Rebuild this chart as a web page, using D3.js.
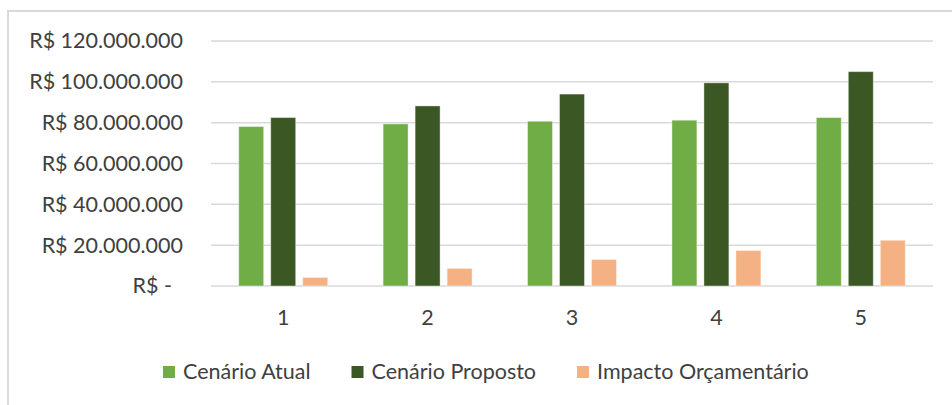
<!DOCTYPE html>
<html>
<head>
<meta charset="utf-8">
<script src="https://cdn.jsdelivr.net/npm/d3@7"></script>
<style>
  body { margin: 0; background: #fff; }
  svg { display: block; }
</style>
</head>
<body>
<script>
const categories = ["1", "2", "3", "4", "5"];
const seriesNames = ["Cenário Atual", "Cenário Proposto", "Impacto Orçamentário"];
const atual = [78100000, 79400000, 80700000, 81200000, 82500000];
const proposto = [82500000, 88200000, 94000000, 99500000, 105000000];
const impacto = [4200000, 8600000, 13000000, 17400000, 22400000];
const yTicks = [0, 20000000, 40000000, 60000000, 80000000, 100000000, 120000000];
const colors = ["#70ad47", "#3a5724", "#f4b183"];

function init(){
	const width = 952, height = 405;
	const font = "Lato, 'Open Sans', sans-serif";
	const fs = "21.5px";

	const svg = d3.select("body").append("svg")
		.attr("width", width)
		.attr("height", height)
		.style("background-color", "#ffffff");

	// chart frame (cut off at right and bottom)
	svg.append("rect")
		.attr("x", 8)
		.attr("y", 11)
		.attr("width", 1000)
		.attr("height", 500)
		.attr("fill", "none")
		.attr("stroke", "#d9d9d9")
		.attr("stroke-width", 2);

	const left = 211, right = 933, top = 41, bottom = 286;

	const x0 = d3.scaleBand()
		.domain(categories)
		.range([left, right])
		.padding(0);

	const x1 = d3.scaleBand()
		.domain(seriesNames)
		.range([0, x0.bandwidth()])
		.paddingInner(0.22)
		.paddingOuter(0.866);

	const y = d3.scaleLinear()
		.domain([0, 120000000])
		.range([bottom, top]);

	const fmt = v => v === 0 ? "R$ -" : "R$ " + d3.format(",")(v).replace(/,/g, ".");

	// gridlines
	svg.append("g")
		.selectAll("line")
		.data(yTicks)
		.join("line")
		.attr("x1", left)
		.attr("x2", right)
		.attr("y1", d => y(d))
		.attr("y2", d => y(d))
		.attr("stroke", "#d9d9d9")
		.attr("stroke-width", 1.5);

	// y axis labels
	const yAxis = svg.append("g")
		.attr("transform", `translate(${left - 28},0)`)
		.call(d3.axisLeft(y).tickValues(yTicks).tickFormat(fmt).tickSize(0).tickPadding(0));
	yAxis.select(".domain").remove();
	yAxis.selectAll("text")
		.attr("font-family", font)
		.attr("font-size", fs)
		.attr("fill", "#404040")
		.attr("dx", d => d === 0 ? -11 : 0);

	// bars
	const data = [atual, proposto, impacto];
	const groups = svg.append("g")
		.selectAll("g")
		.data(categories)
		.join("g")
		.attr("transform", d => `translate(${x0(d)},0)`);

	groups.selectAll("rect")
		.data((d, i) => seriesNames.map((s, j) => ({ s: s, v: data[j][i], c: colors[j] })))
		.join("rect")
		.attr("x", d => x1(d.s))
		.attr("width", x1.bandwidth())
		.attr("y", d => y(d.v))
		.attr("height", d => y(0) - y(d.v))
		.attr("fill", d => d.c)
		.attr("stroke", "#ffffff")
		.attr("stroke-opacity", 0.4)
		.attr("stroke-width", 1);

	// x axis labels
	const xAxis = svg.append("g")
		.attr("transform", `translate(0,${bottom + 24})`)
		.call(d3.axisBottom(x0).tickSize(0).tickPadding(0));
	xAxis.select(".domain").remove();
	xAxis.selectAll("text")
		.attr("font-family", font)
		.attr("font-size", fs)
		.attr("fill", "#404040");

	// legend
	const legend = svg.append("g");
	let lx = 163;
	seriesNames.forEach((s, i) => {
		legend.append("rect")
			.attr("x", lx)
			.attr("y", 366)
			.attr("width", 12)
			.attr("height", 12)
			.attr("fill", colors[i]);
		const t = legend.append("text")
			.attr("x", lx + 20)
			.attr("y", 379)
			.attr("font-family", font)
			.attr("font-size", fs)
			.attr("fill", "#404040")
			.text(s);
		lx += 20 + t.node().getComputedTextLength() + 41;
	});
}
init();
</script>
</body>
</html>
